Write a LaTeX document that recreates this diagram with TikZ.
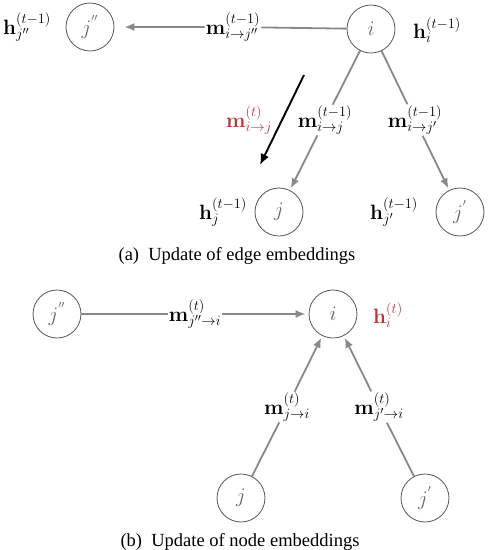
\documentclass[tikz,border=0pt]{standalone}
\usepackage[no-math]{fontspec}
\setmainfont{Liberation Serif}
\usetikzlibrary{arrows.meta}
\definecolor{edgegray}{RGB}{136,136,136}
\definecolor{circgray}{RGB}{85,85,85}
\definecolor{txtgray}{RGB}{100,100,100}
\definecolor{hlred}{RGB}{190,50,60}
\tikzset{
  gnode/.style={circle, draw=circgray, line width=0.8pt, minimum size=48pt, inner sep=0pt, text=txtgray, font=\fontsize{22}{26}\selectfont},
  mlabel/.style={inner sep=1pt, font=\fontsize{21.5}{25}\selectfont},
  hlabel/.style={inner sep=0pt, font=\fontsize{21.5}{25}\selectfont},
  msgedge/.style={draw=edgegray, line width=1.8pt, -{Latex[length=10pt,width=8pt]}},
  newedge/.style={draw=black, line width=1.9pt, -{Latex[length=11pt,width=9pt]}},
  capt/.style={font=\fontsize{18.5}{22}\selectfont}
}
\begin{document}
\begin{tikzpicture}[x=1pt,y=-1pt]
\useasboundingbox (0,0) rectangle (489,550);
% ---------- (a) ----------
\node[gnode] (ajpp) at (90,27) {$j^{''}$};
\node[gnode] (ai) at (371,29) {$i$};
\node[gnode] (aj) at (279,212) {$j$};
\node[gnode] (ajp) at (460,212) {$j^{'}$};
\node[mlabel] (al1) at (233,27) {$\mathbf{m}^{(t-1)}_{i\to j''}$};
\node[mlabel] (al2) at (325,120) {$\mathbf{m}^{(t-1)}_{i\to j}$};
\node[mlabel] (al3) at (415,120) {$\mathbf{m}^{(t-1)}_{i\to j'}$};
\node[hlabel] (ahjpp) at (27,27) {$\mathbf{h}^{(t-1)}_{j''}$};
\node[hlabel] (ahi) at (437,30) {$\mathbf{h}^{(t-1)}_{i}$};
\node[hlabel] (ahj) at (223,212) {$\mathbf{h}^{(t-1)}_{j}$};
\node[hlabel] (ahjp) at (394,212) {$\mathbf{h}^{(t-1)}_{j'}$};
\node[mlabel, text=hlred] (alnew) at (249,120) {$\mathbf{m}^{(t)}_{i\to j}$};
\coordinate (anews) at (304,75);
\coordinate (anewe) at (260,165);
\draw[msgedge, shorten >=10pt] (ai) -- (al1) -- (ajpp);
\draw[msgedge, shorten >=2pt] (ai) -- (al2) -- (aj);
\draw[msgedge, shorten >=2pt] (ai) -- (al3) -- (ajp);
\draw[newedge] (anews) -- (anewe);
\node[capt] (capa) at (237,256) {(a)\enspace Update of edge embeddings};
% ---------- (b) ----------
\node[gnode] (bjpp) at (57,314) {$j^{''}$};
\node[gnode] (bi) at (333,314) {$i$};
\node[gnode] (bj) at (241,498) {$j$};
\node[gnode] (bjp) at (425,498) {$j^{'}$};
\node[mlabel] (bl1) at (195,314) {$\mathbf{m}^{(t)}_{j''\to i}$};
\node[mlabel] (bl2) at (287,407) {$\mathbf{m}^{(t)}_{j\to i}$};
\node[mlabel] (bl3) at (379,407) {$\mathbf{m}^{(t)}_{j'\to i}$};
\node[hlabel, text=hlred] (bhi) at (388,315) {$\mathbf{h}^{(t)}_{i}$};
\draw[msgedge, shorten >=3pt] (bjpp) -- (bl1) -- (bi);
\draw[msgedge, shorten >=2pt] (bj) -- (bl2) -- (bi);
\draw[msgedge, shorten >=2pt] (bjp) -- (bl3) -- (bi);
\node[capt] (capb) at (240,542) {(b)\enspace Update of node embeddings};
\end{tikzpicture}
\end{document}
